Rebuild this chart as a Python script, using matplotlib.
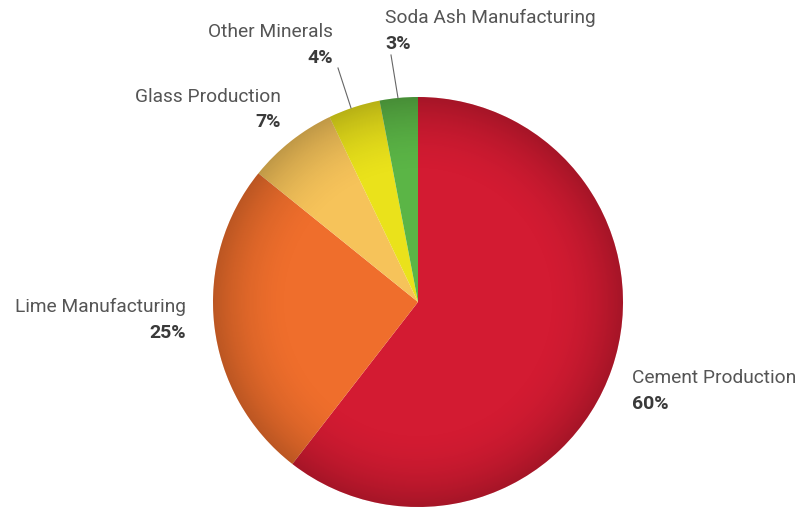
import matplotlib
matplotlib.use("Agg")
import matplotlib.pyplot as plt
import numpy as np
from matplotlib.patches import Circle

categories = ["Cement Production", "Lime Manufacturing", "Glass Production",
              "Other Minerals", "Soda Ash Manufacturing"]
values = [60.5, 25.3, 7.1, 4.1, 3.0]
pct_labels = ["60%", "25%", "7%", "4%", "3%"]
colors = ["#D31B32", "#EF6E2C", "#F6C35A", "#EAE21B", "#5BB546"]

W, H = 803, 508
fig = plt.figure(figsize=(W / 100, H / 100), dpi=100)
ax = fig.add_axes([0, 0, 1, 1])

cx, cy, r = 418, H - 302, 205
wedges, _ = ax.pie(values, colors=colors, startangle=90, counterclock=False,
                   center=(cx, cy), radius=r, frame=True,
                   wedgeprops=dict(linewidth=0))
ax.set_xlim(0, W)
ax.set_ylim(0, H)
ax.set_aspect("equal")
ax.axis("off")

# radial shading overlay (darker rim)
n = 400
yy, xx = np.mgrid[0:n, 0:n]
d = np.hypot(xx - n / 2 + 0.5, yy - n / 2 + 0.5) / (n / 2)
alpha = np.clip((d - 0.6) / 0.4, 0, 1) ** 2 * 0.22
shade = np.zeros((n, n, 4))
shade[..., 3] = alpha
im = ax.imshow(shade, extent=(cx - r, cx + r, cy - r, cy + r), zorder=3,
               interpolation="bilinear")
clip = Circle((cx, cy), r, transform=ax.transData)
im.set_clip_path(clip)

fonts = ["Roboto", "DejaVu Sans"]
tc = "#555555"
pc = "#3a3a3a"
# label layout: (x, y_name, y_pct, ha)
layout = {
    "Cement Production": (632, 378, 404, "left"),
    "Lime Manufacturing": (186, 307, 333, "right"),
    "Glass Production": (281, 97, 122, "right"),
    "Other Minerals": (333, 32, 58, "right"),
    "Soda Ash Manufacturing": (385, 18, 44, "left"),
}
for name, pct in zip(categories, pct_labels):
    x, yn, yp, ha = layout[name]
    ax.text(x, H - yn, name, ha=ha, va="center", fontsize=13.8, color=tc,
            family=fonts, fontweight="normal")
    ax.text(x, H - yp, pct, ha=ha, va="center", fontsize=14, color=pc,
            family=fonts, fontweight="bold")

# leader lines
ax.plot([338, 351], [H - 68, H - 108], color="#666666", lw=0.8, zorder=4)
ax.plot([391, 398], [H - 55, H - 98], color="#666666", lw=0.8, zorder=4)

fig.savefig("out.png", dpi=100, facecolor="white")
